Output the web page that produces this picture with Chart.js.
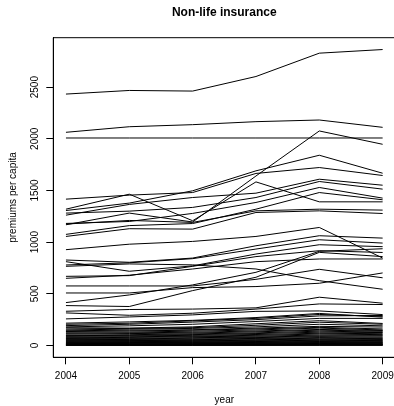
<!DOCTYPE html>
<html>
<head>
<meta charset="utf-8">
<script src="https://cdn.jsdelivr.net/npm/chart.js@4.4.0/dist/chart.umd.min.js"></script>
<style>
  html, body { margin: 0; padding: 0; background: #fff; overflow: hidden; width: 394px; height: 406px; }
  canvas { display: block; }
</style>
</head>
<body>
<canvas id="chart" width="400" height="406" style="width:400px;height:406px"></canvas>
<script>
// Survey years on the x axis
const years = [2004, 2005, 2006, 2007, 2008, 2009];
// Labelled ticks on the y axis
const yTicks = [0, 500, 1000, 1500, 2000, 2500];

// Non-life premiums per capita, one row per country
const highSeries = [
  [2433, 2468, 2462, 2603, 2829, 2864],
  [2063, 2117, 2137, 2166, 2182, 2111],
  [2008, 2008, 2008, 2008, 2008, 2008]
];

const upperSeries = [
  [1416, 1455, 1480, 1665, 1722, 1645],
  [1306, 1378, 1497, 1690, 1841, 1667],
  [1319, 1464, 1207, 1583, 1390, 1390],
  [1168, 1281, 1195, 1640, 2076, 1947],
  [1261, 1365, 1432, 1474, 1609, 1551],
  [1281, 1300, 1336, 1432, 1587, 1513],
  [1181, 1200, 1278, 1384, 1529, 1426],
  [1075, 1160, 1180, 1319, 1480, 1410],
  [1175, 1210, 1191, 1303, 1319, 1310],
  [1055, 1130, 1126, 1287, 1303, 1277],
  [927, 980, 1007, 1055, 1142, 846]
];

const middleSeries = [
  [827, 805, 846, 965, 1062, 1039],
  [811, 718, 770, 885, 975, 956],
  [779, 800, 840, 933, 1023, 991],
  [766, 789, 780, 740, 627, 544],
  [669, 676, 766, 860, 917, 900],
  [650, 680, 740, 811, 837, 837],
  [576, 576, 576, 640, 737, 655],
  [508, 508, 560, 570, 602, 702],
  [415, 489, 586, 708, 911, 936],
  [386, 377, 531, 660, 901, 860],
  [331, 348, 352, 364, 467, 409],
  [315, 292, 312, 352, 402, 396]
];

const lowerSeries = [
  [257, 276, 296, 330, 334, 299],
  [216, 228, 243, 270, 310, 274],
  [205, 215, 238, 262, 300, 282],
  [192, 205, 226, 250, 286, 290],
  [180, 190, 205, 232, 262, 262],
  [172, 168, 180, 210, 240, 213],
  [160, 165, 172, 195, 225, 205],
  [150, 158, 165, 180, 205, 190],
  [142, 148, 152, 168, 185, 178],
  [135, 140, 148, 160, 175, 160],
  [128, 130, 138, 150, 168, 150],
  [118, 122, 128, 140, 155, 145],
  [110, 115, 120, 132, 148, 138],
  [100, 104, 112, 122, 138, 130],
  [95, 98, 105, 115, 128, 125],
  [88, 92, 98, 106, 118, 114],
  [80, 84, 90, 98, 110, 105],
  [74, 78, 84, 90, 100, 98],
  [68, 70, 75, 82, 92, 90],
  [62, 64, 70, 76, 85, 80],
  [56, 58, 62, 68, 76, 72],
  [50, 52, 56, 62, 70, 66],
  [45, 47, 50, 55, 62, 58],
  [40, 42, 45, 50, 56, 52],
  [35, 37, 40, 44, 50, 47],
  [30, 32, 35, 38, 44, 40],
  [26, 28, 30, 33, 38, 35],
  [22, 24, 26, 29, 33, 30],
  [18, 20, 22, 24, 28, 26],
  [15, 16, 18, 20, 24, 22],
  [12, 13, 14, 16, 19, 17],
  [9, 10, 11, 12, 15, 14],
  [7, 7, 8, 9, 11, 10],
  [5, 5, 6, 7, 8, 8],
  [3, 3, 4, 4, 5, 5],
  [2, 2, 2, 3, 3, 3],
  [1, 1, 1, 1, 2, 2]
];

const allSeries = [...highSeries, ...upperSeries, ...middleSeries, ...lowerSeries];
const FONT = '"Liberation Sans", Arial, Helvetica, sans-serif';

// Frame around the plotting region (its right side falls past the canvas edge)
const plotBox = {
  id: 'plotBox',
  afterDraw(chart) {
    const { ctx, chartArea: a } = chart;
    ctx.save();
    ctx.strokeStyle = '#000';
    ctx.lineWidth = 1;
    ctx.beginPath();
    ctx.moveTo(a.right, a.top);
    ctx.lineTo(a.left, a.top);
    ctx.lineTo(a.left, a.bottom);
    ctx.lineTo(a.right, a.bottom);
    ctx.stroke();
    ctx.restore();
  }
};

new Chart(document.getElementById('chart'), {
  type: 'line',
  data: {
    datasets: allSeries.map(row => ({
      data: row.map((v, i) => ({ x: years[i], y: v })),
      borderColor: '#000',
      borderWidth: 1,
      pointRadius: 0,
      tension: 0,
      fill: false
    }))
  },
  options: {
    responsive: false,
    animation: false,
    events: [],
    layout: { padding: { left: 0, right: 4.7, top: 0, bottom: 0 } },
    plugins: {
      legend: { display: false },
      tooltip: { enabled: false },
      title: {
        display: true,
        text: 'Non-life insurance',
        color: '#000',
        fullSize: false,
        font: { family: FONT, size: 12, weight: 'bold' },
        padding: { top: 5, bottom: 18.3 }
      }
    },
    scales: {
      x: {
        type: 'linear',
        min: 2003.8,
        max: 2009.2,
        afterBuildTicks(s) { s.ticks = years.map(v => ({ value: v })); },
        ticks: { color: '#000', font: { family: FONT, size: 10 }, padding: 6, maxRotation: 0, callback: v => String(v) },
        grid: { display: true, drawOnChartArea: false, drawTicks: true, tickLength: 7, color: '#000', tickColor: '#000' },
        border: { display: true, color: '#000' },
        title: { display: true, text: 'year', color: '#000', font: { family: FONT, size: 10 }, padding: { top: 0, bottom: 0 } },
        afterFit(s) { s.height = 48.7; s.paddingLeft = 0; s.paddingRight = 0; }
      },
      y: {
        type: 'linear',
        min: -114.6,
        max: 2978.6,
        afterBuildTicks(s) { s.ticks = yTicks.map(v => ({ value: v })); },
        ticks: { color: '#000', font: { family: FONT, size: 10 }, padding: 0, minRotation: 90, maxRotation: 90, crossAlign: 'center', callback: v => String(v) },
        grid: { display: true, drawOnChartArea: false, drawTicks: true, tickLength: 7, color: '#000', tickColor: '#000' },
        border: { display: true, color: '#000' },
        title: { display: true, text: 'premiums per capita', color: '#000', font: { family: FONT, size: 10 }, padding: { top: 7, bottom: 0 } },
        afterFit(s) { s.width = 53.3; s.paddingTop = 0; s.paddingBottom = 0; }
      }
    }
  },
  plugins: [plotBox]
});
</script>
</body>
</html>
